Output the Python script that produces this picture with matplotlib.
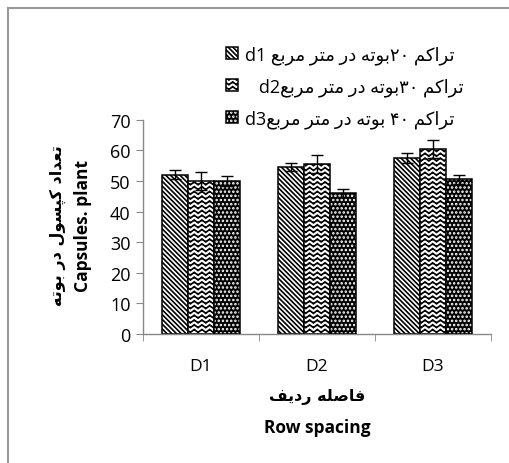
import warnings
import numpy as np
import matplotlib
matplotlib.use("Agg")
import matplotlib.pyplot as plt
import matplotlib.hatch as mhatch
from matplotlib.path import Path
from matplotlib.lines import Line2D
from matplotlib.legend_handler import HandlerTuple

warnings.filterwarnings("ignore")

# data
groups = ["D1", "D2", "D3"]
d1_vals = [52, 54.5, 57.5]
d2_vals = [50, 55.5, 60.5]
d3_vals = [50, 46, 50.5]
d1_err = [1.5, 1.4, 1.6]
d2_err = [3.0, 3.0, 3.0]
d3_err = [1.5, 1.4, 1.5]
legend_labels = [
    "تراکم ۲۰بوته در متر مربع d1",
    "تراکم ۳۰بوته در متر مربعd2   ",
    "تراکم ۴۰ بوته در متر مربعd3",
]
ylabel_fa = "تعداد کپسول در بوته"
ylabel_en = "Capsules. plant"
xlabel_fa = "فاصله ردیف"
xlabel_en = "Row spacing"

# --- minimal arabic shaping + visual ordering (no bidi libs available) ---
FORMS = {  # isolated, final, initial, medial
    "\u0627": ("\uFE8D", "\uFE8E", None, None),
    "\u0628": ("\uFE8F", "\uFE90", "\uFE91", "\uFE92"),
    "\u062A": ("\uFE95", "\uFE96", "\uFE97", "\uFE98"),
    "\u062F": ("\uFEA9", "\uFEAA", None, None),
    "\u0631": ("\uFEAD", "\uFEAE", None, None),
    "\u0633": ("\uFEB1", "\uFEB2", "\uFEB3", "\uFEB4"),
    "\u0635": ("\uFEB9", "\uFEBA", "\uFEBB", "\uFEBC"),
    "\u0639": ("\uFEC9", "\uFECA", "\uFECB", "\uFECC"),
    "\u0641": ("\uFED1", "\uFED2", "\uFED3", "\uFED4"),
    "\u0644": ("\uFEDD", "\uFEDE", "\uFEDF", "\uFEE0"),
    "\u0645": ("\uFEE1", "\uFEE2", "\uFEE3", "\uFEE4"),
    "\u0647": ("\uFEE9", "\uFEEA", "\uFEEB", "\uFEEC"),
    "\u0648": ("\uFEED", "\uFEEE", None, None),
    "\u06CC": ("\uFBFC", "\uFBFD", "\uFBFE", "\uFBFF"),
    "\u06A9": ("\uFB8E", "\uFB8F", "\uFB90", "\uFB91"),
    "\u067E": ("\uFB56", "\uFB57", "\uFB58", "\uFB59"),
}


def fa(text):
    out = []
    for i, ch in enumerate(text):
        if ch not in FORMS:
            out.append(ch)
            continue
        prev = text[i - 1] if i > 0 else ""
        nxt = text[i + 1] if i + 1 < len(text) else ""
        jp = prev in FORMS and FORMS[prev][2] is not None
        jn = nxt in FORMS and FORMS[ch][2] is not None
        iso, fin, ini, med = FORMS[ch]
        out.append(med if jp and jn else fin if jp else ini if jn else iso)
    s = "".join(out)[::-1]
    # put left-to-right runs (latin, digits) back in order
    res, run = [], []
    for ch in s + "\0":
        is_ltr = ch.isalnum() and not ("\u0600" <= ch <= "\u06EF" or ch >= "\uFB50")
        if is_ltr:
            run.append(ch)
        else:
            res.extend(run[::-1])
            run = []
            res.append(ch)
    return "".join(res[:-1])


# --- wavy hatch pattern, triggered by '~' ---
class WaveHatch(mhatch.HatchPatternBase):
    def __init__(self, hatch, density):
        self.num_lines = 21 if "~" in hatch else 0
        self.num_pts = 53
        self.num_vertices = self.num_lines * self.num_pts

    def set_vertices_and_codes(self, vertices, codes):
        x = np.linspace(0, 1, self.num_pts)
        wave = 0.015 * np.sin(2 * np.pi * 13 * x)
        for i in range(self.num_lines):
            y0 = (i + 0.5) / self.num_lines
            sl = slice(i * self.num_pts, (i + 1) * self.num_pts)
            vertices[sl, 0] = x
            vertices[sl, 1] = y0 + wave
            codes[sl] = Path.LINETO
            codes[i * self.num_pts] = Path.MOVETO


mhatch._hatch_types.append(WaveHatch)
plt.rcParams["hatch.linewidth"] = 1.2

fams = ["Open Sans", "DejaVu Sans"]
fig = plt.figure(figsize=(5.1, 4.64), dpi=100)
ax = fig.add_axes([0.2804, 0.278, 0.6823, 0.4619])

x = np.arange(len(groups))
w = 0.224
b1 = ax.bar(x - w, d1_vals, w, facecolor="white", edgecolor="black",
            hatch="\\" * 7, linewidth=1.1, zorder=2)
b2 = ax.bar(x, d2_vals, w, facecolor="white", edgecolor="black",
            hatch="~", linewidth=1.1, zorder=2)
b3f = ax.bar(x + w, d3_vals, w, facecolor="black", edgecolor="white",
             hatch="....", linewidth=0, zorder=2)
b3e = ax.bar(x + w, d3_vals, w, fill=False, edgecolor="black",
             linewidth=1.1, zorder=3)
for off, vals, err in [(-w, d1_vals, d1_err), (0, d2_vals, d2_err), (w, d3_vals, d3_err)]:
    ax.errorbar(x + off, vals, yerr=err, fmt="none", ecolor="black",
                elinewidth=1, capsize=4, capthick=1, zorder=4)

ax.set_xlim(-0.5, 2.5)
ax.set_ylim(0, 70)
ax.set_yticks(range(0, 71, 10))
ax.set_xticks(x)
ax.set_xticklabels(groups, fontfamily=fams, fontsize=12.5)
ax.set_xticks([-0.5, 0.5, 1.5, 2.5], minor=True)
ax.tick_params(axis="x", which="major", length=0, pad=17)
ax.tick_params(axis="x", which="minor", length=5, color="#888888", direction="out")
ax.tick_params(axis="y", length=5, color="#888888", labelsize=13, pad=4)
for lab in ax.get_yticklabels():
    lab.set_fontfamily(fams)
for side in ["top", "right"]:
    ax.spines[side].set_visible(False)
for side in ["left", "bottom"]:
    ax.spines[side].set_color("#888888")
    ax.spines[side].set_linewidth(1)

# axis titles: persian line + english line
ymid = 1 - 226 / 464
fig.text(58 / 510, ymid, fa(ylabel_fa), rotation=90, ha="center", va="center",
         fontfamily="DejaVu Sans", fontsize=11.5, fontweight="bold")
fig.text(83 / 510, ymid, ylabel_en, rotation=90, ha="center", va="center",
         fontfamily=fams, fontsize=12.5, fontweight="bold")
xmid = 317 / 510
fig.text(xmid, 1 - 397 / 464, fa(xlabel_fa), ha="center", va="center",
         fontfamily="DejaVu Sans", fontsize=11.5, fontweight="bold")
fig.text(xmid, 1 - 428 / 464, xlabel_en, ha="center", va="center",
         fontfamily=fams, fontsize=12.5, fontweight="bold")

leg = fig.legend([b1, b2, (b3f, b3e)], [fa(t) for t in legend_labels],
                 handler_map={tuple: HandlerTuple(ndivide=1)},
                 loc="upper left", bbox_to_anchor=(0.425, 0.92),
                 frameon=False, prop={"family": fams, "size": 13},
                 handlelength=0.65, handleheight=0.65, handletextpad=0.4,
                 labelspacing=0.75, borderpad=0)

# outer chart border (only top and left edges are visible in the crop)
fig.add_artist(Line2D([8 / 510, 8 / 510], [0, 1 - 9 / 464], transform=fig.transFigure,
                      color="#999999", linewidth=1.5))
fig.add_artist(Line2D([8 / 510, 1], [1 - 9 / 464, 1 - 9 / 464], transform=fig.transFigure,
                      color="#999999", linewidth=1.5))

fig.savefig("out.png", dpi=100)
